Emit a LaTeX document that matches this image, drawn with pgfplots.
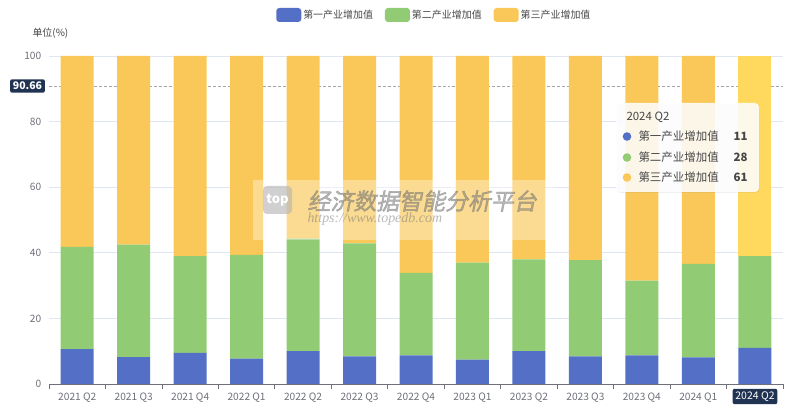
\documentclass[border=0pt]{standalone}
\usepackage{fontspec}
\setmainfont{Noto Sans CJK SC}
\newfontfamily\wmfont[FakeSlant=0.2,FakeBold=2]{Noto Sans CJK SC}
\newfontfamily\urlfont{Liberation Serif}
\usepackage{pgfplots}
\pgfplotsset{compat=1.18}
\usetikzlibrary{shadows}

\definecolor{c1}{HTML}{5470C6}
\definecolor{c2}{HTML}{91CC75}
\definecolor{c3}{HTML}{FAC858}
\definecolor{c3h}{HTML}{FFD95E}
\definecolor{tickc}{HTML}{6E7079}
\definecolor{gridc}{HTML}{E0E6F1}
\definecolor{navy}{HTML}{213352}
\definecolor{txt}{HTML}{464646}

\begin{document}
\begin{tikzpicture}
\useasboundingbox (0,0) rectangle (800bp,419bp);
\begin{axis}[
  at={(49bp,35bp)}, anchor=south west,
  scale only axis, width=734bp, height=328bp,
  ybar stacked, bar width=33bp,
  enlargelimits=false,
  xmin=-0.5, xmax=12.5, ymin=0, ymax=100,
  xtick={0,...,12},
  xticklabels={2021 Q2,2021 Q3,2021 Q4,2022 Q1,2022 Q2,2022 Q3,2022 Q4,2023 Q1,2023 Q2,2023 Q3,2023 Q4,2024 Q1,2024 Q2},
  minor xtick={-0.5,0.5,...,12.5},
  ytick={0,20,...,100},
  axis x line*=bottom, axis y line*=left,
  x axis line style={-, draw=tickc, line width=0.8bp},
  y axis line style={draw=none},
  major x tick style={draw=none},
  minor x tick style={draw=tickc, line width=0.8bp},
  minor tick length=5bp, tick align=outside,
  major y tick style={draw=none},
  ymajorgrids, grid style={gridc, line width=0.8bp},
  tick label style={font=\fontsize{10.2}{12}\selectfont, text=tickc},
  yticklabel style={xshift=0bp},
  xticklabel style={yshift=-1bp},
  /pgf/number format/assume math mode=true,
  legend style={at={(0.525,1.125)}, anchor=center, draw=none, fill=none,
    font=\fontsize{10}{12}\selectfont, text=txt,
    /tikz/every even column/.append style={column sep=10bp}},
  legend columns=3,
  legend image code/.code={\fill[#1, rounded corners=3bp] (0bp,-7bp) rectangle (25bp,7bp);},
]
\addplot[fill=c1, draw=none] coordinates {
  (0,10.6) (1,8.2) (2,9.5) (3,7.7) (4,10.0) (5,8.4) (6,8.7)
  (7,7.4) (8,10.0) (9,8.4) (10,8.7) (11,8.1) (12,11)};
\addlegendentry{第一产业增加值}
\addplot[fill=c2, draw=none] coordinates {
  (0,31.2) (1,34.3) (2,29.5) (3,31.7) (4,34.3) (5,34.5) (6,25.2)
  (7,29.6) (8,28.0) (9,29.4) (10,22.8) (11,28.5) (12,28)};
\addlegendentry{第二产业增加值}
\addplot[fill=c3, draw=none] coordinates {
  (0,58.2) (1,57.5) (2,61.0) (3,60.6) (4,55.7) (5,57.1) (6,66.1)
  (7,63.0) (8,62.0) (9,62.2) (10,68.5) (11,63.4) (12,0)};
\addlegendentry{第三产业增加值}
\addplot[fill=c3h, draw=none, forget plot] coordinates {
  (0,0) (1,0) (2,0) (3,0) (4,0) (5,0) (6,0)
  (7,0) (8,0) (9,0) (10,0) (11,0) (12,61)};
% axis pointer lines
\draw[densely dashed, color=gray!70, line width=0.7bp] (axis cs:-0.5,90.66) -- (axis cs:12.5,90.66);
\draw[densely dashed, color=gray!50, line width=0.7bp] (axis cs:12,0) -- (axis cs:12,100);
\end{axis}
% unit label
\node[anchor=west, font=\fontsize{10}{12}\selectfont, text=txt] at (29bp,386bp) {单位(\%)};
% pointer labels
\node[fill=navy, text=white, rounded corners=2bp, inner sep=2.8bp, font=\fontsize{10.5}{12}\selectfont\bfseries] at (27.5bp,333bp) {90.66};
\node[fill=navy, text=white, rounded corners=2bp, inner sep=2.8bp, font=\fontsize{10.5}{12}\selectfont] at (755bp,22.5bp) {2024 Q2};
% watermark
\fill[white, opacity=0.35] (253bp,179bp) rectangle (555bp,239bp);
\fill[gray!60, opacity=0.6, rounded corners=4bp] (263bp,205bp) rectangle (292bp,233bp);
\node[text=white, font=\fontsize{13}{14}\selectfont\bfseries] at (277.5bp,219bp) {top};
\node[anchor=west, text=gray!90!black, opacity=0.5, font=\fontsize{23}{24}\wmfont] at (304bp,218bp) {经济数据智能分析平台};
\node[anchor=west, text=gray!90!black, opacity=0.5, font=\fontsize{14}{15}\urlfont\itshape] at (304bp,200bp) {https://www.topedb.com};
% tooltip
\fill[white, opacity=0.87, rounded corners=4bp, drop shadow={opacity=0.12, shadow xshift=0.5bp, shadow yshift=-1bp}] (616bp,316bp) rectangle (759bp,227bp);
\node[anchor=west, text=txt, font=\fontsize{11.5}{13}\selectfont] at (623bp,302bp) {2024 Q2};
\fill[c1] (627bp,282.5bp) circle (4.3bp);
\fill[c2] (627bp,261.5bp) circle (4.3bp);
\fill[c3] (627bp,241.5bp) circle (4.3bp);
\node[anchor=west, text=txt, font=\fontsize{11.5}{13}\selectfont] at (635bp,282.5bp) {第一产业增加值};
\node[anchor=west, text=txt, font=\fontsize{11.5}{13}\selectfont] at (635bp,261.5bp) {第二产业增加值};
\node[anchor=west, text=txt, font=\fontsize{11.5}{13}\selectfont] at (635bp,241.5bp) {第三产业增加值};
\node[anchor=east, text=txt, font=\fontsize{11.5}{13}\selectfont\bfseries] at (751bp,282.5bp) {11};
\node[anchor=east, text=txt, font=\fontsize{11.5}{13}\selectfont\bfseries] at (751bp,261.5bp) {28};
\node[anchor=east, text=txt, font=\fontsize{11.5}{13}\selectfont\bfseries] at (751bp,241.5bp) {61};
\end{tikzpicture}
\end{document}
